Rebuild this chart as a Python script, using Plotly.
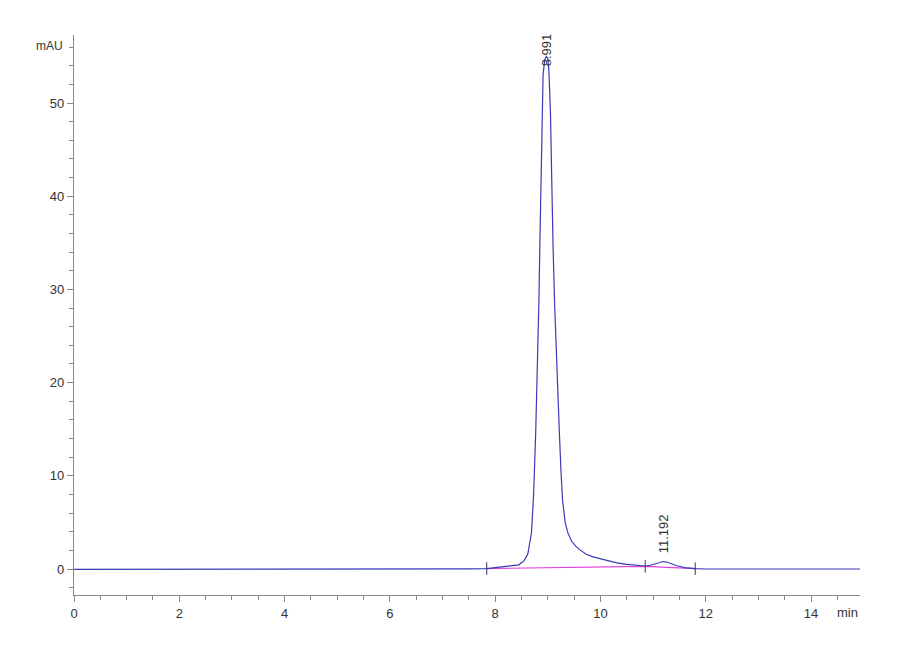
import plotly.graph_objects as go

# chromatogram trace (min, mAU)
time_min = [0.0, 1.0, 1.7, 2.0, 2.3, 2.6, 4.0, 5.5, 6.0, 6.8, 7.5, 7.84,
            8.0, 8.15, 8.3, 8.45, 8.55, 8.62, 8.69, 8.73, 8.77, 8.80, 8.83,
            8.85, 8.87, 8.89, 8.91, 8.94, 8.97, 9.00, 9.02, 9.05, 9.07, 9.10,
            9.13, 9.17, 9.22, 9.25, 9.28, 9.33, 9.38, 9.45, 9.53, 9.61, 9.72,
            9.86, 10.0, 10.15, 10.31, 10.5, 10.7, 10.85, 10.95, 11.05, 11.12,
            11.19, 11.26, 11.35, 11.45, 11.6, 11.8, 12.0, 13.0, 14.0, 14.93]
signal_mau = [-0.05, -0.05, -0.05, 0.0, -0.02, -0.05, -0.04, -0.03, 0.0, -0.01, 0.02, 0.05,
              0.15, 0.25, 0.3, 0.45, 0.9, 1.6, 3.9, 8.0, 14.6, 21.0, 28.5,
              35.0, 41.4, 48.0, 53.0, 54.6, 55.0, 54.8, 53.6, 49.0, 41.5, 34.5,
              28.3, 21.5, 14.6, 10.5, 7.4, 5.0, 3.9, 3.0, 2.45, 2.05, 1.6,
              1.3, 1.1, 0.85, 0.65, 0.5, 0.4, 0.32, 0.4, 0.55, 0.7,
              0.8, 0.75, 0.55, 0.35, 0.15, 0.03, 0.0, 0.0, 0.0, 0.0]

# integration baseline and its start/end marks
base_t = [7.84, 10.85, 11.8]
base_v = [0.05, 0.28, 0.03]

# peak labels
peak_t = [8.991, 11.192]
peak_v = [55.0, 0.8]
peak_txt = ["8.991", "11.192"]
label_shift = [-12, 6]

fnt = "Liberation Sans Narrow, Arial Narrow, Liberation Sans, Arial, sans-serif"

fig = go.Figure()
fig.add_trace(go.Scatter(x=base_t, y=base_v, mode="lines",
                         line=dict(color="#e040e0", width=1.2), hoverinfo="skip"))
fig.add_trace(go.Scatter(x=time_min, y=signal_mau, mode="lines",
                         line=dict(color="#3a3ab8", width=1.2)))
fig.add_trace(go.Scatter(x=base_t, y=base_v, mode="markers",
                         marker=dict(symbol="line-ns", size=9,
                                     line=dict(color="#333366", width=1)),
                         hoverinfo="skip"))

for t, v, s, dy in zip(peak_t, peak_v, peak_txt, label_shift):
    fig.add_annotation(x=t, y=v, text=s, textangle=-90, showarrow=False,
                       xanchor="center", yanchor="bottom", yshift=dy,
                       font=dict(family=fnt, size=13, color="#333333"))

fig.add_annotation(xref="paper", yref="paper", x=0, y=1, xanchor="right",
                   yanchor="top", xshift=-9, yshift=-2, text="mAU", showarrow=False,
                   font=dict(family=fnt, size=12, color="#333333"))
fig.add_annotation(xref="paper", yref="paper", x=1, y=0, xanchor="right",
                   yanchor="top", yshift=-8, text="min", showarrow=False,
                   font=dict(family=fnt, size=13, color="#333333"))

axis_common = dict(showgrid=False, zeroline=False, showline=True,
                   linecolor="#888888", linewidth=1.3, ticks="outside",
                   tickcolor="#888888", ticklen=6, tickwidth=1.2,
                   tickfont=dict(family=fnt, size=13, color="#333333"))

fig.update_xaxes(range=[0, 14.93], dtick=2, tick0=0,
                 minor=dict(dtick=0.5, ticks="outside", ticklen=4, tickcolor="#888888"),
                 **axis_common)
fig.update_yaxes(range=[-2.79, 57.3], dtick=10, tick0=0,
                 minor=dict(dtick=2, ticks="outside", ticklen=4, tickcolor="#888888"),
                 **axis_common)

fig.update_layout(width=900, height=660, showlegend=False,
                  margin=dict(l=66, r=48, t=27, b=73),
                  plot_bgcolor="white", paper_bgcolor="white")

fig.write_html("out.html")
